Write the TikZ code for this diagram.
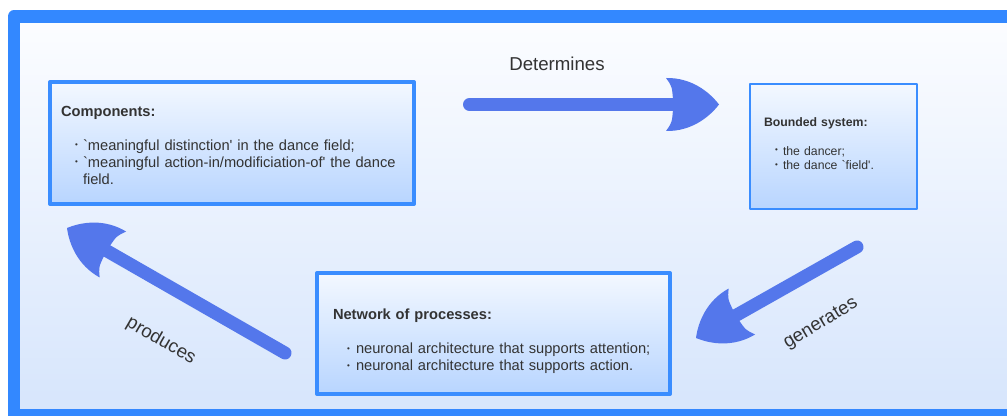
\documentclass[tikz,border=0pt]{standalone}
\usepackage{fontspec}
\setmainfont{Liberation Sans}[Ligatures=TeXOff]
\definecolor{framecol}{RGB}{51,136,255}
\definecolor{boxcol}{RGB}{58,141,255}
\definecolor{arrowcol}{RGB}{84,119,235}
\definecolor{txtcol}{RGB}{51,51,51}
\definecolor{bgtop}{RGB}{252,253,255}
\definecolor{bgbot}{RGB}{214,229,252}
\definecolor{boxtop}{RGB}{243,248,255}
\definecolor{boxbot}{RGB}{184,213,255}
\newcommand\bul[2]{\hspace*{#1}\makebox[#2][l]{\raisebox{.2em}{\fontsize{6}{6}\selectfont\textbullet}}}
\tikzset{
  panel/.style={draw=boxcol,line width=3pt,line join=round,top color=boxtop,bottom color=boxbot,
    align=left,text=txtcol,inner ysep=0pt},
  shaft/.style={draw=arrowcol,line width=9.75pt,line cap=round},
  lbl/.style={text=txtcol,font=\fontsize{14}{16}\selectfont},
  fathead/.pic={
    \fill[arrowcol] (0,0) .. controls (-10,-13) and (-28,-27) .. (-53,-26.5)
      .. controls (-47,-18) .. (-46,-5) -- (-46,5)
      .. controls (-47,18) .. (-53,26.5) .. controls (-28,27) and (-10,13) .. cycle;
  }
}
\begin{document}
\begin{tikzpicture}[x=0.75pt,y=-0.75pt]
\clip (0,0) rectangle (1007,416);
\fill[white] (0,0) rectangle (1007,416);
% outer frame
\draw[framecol,line width=9.4pt,line join=round,top color=bgtop,bottom color=bgbot] (14,16.5) rectangle (1030,415.5);

% the three boxes
\node[panel,minimum width=273pt,minimum height=91.5pt,inner xsep=8.25pt,text width=256.5pt,
  font=\fontsize{11}{12.75}\selectfont] (comp) at (232,143)
  {\rule{0pt}{11pt}\textbf{Components:}\\[12.75pt]
   \bul{10.5pt}{6pt}`meaningful distinction' in the dance field;\\
   \bul{10.5pt}{6pt}`meaningful action-in/modificiation-of' the dance\\
   \hspace*{16.5pt}field.};
\node[panel,line width=1.5pt,minimum width=125.25pt,minimum height=93.75pt,inner xsep=10.5pt,text width=104.25pt,
  font=\fontsize{9.2}{10.9}\selectfont] (bsys) at (833.5,146.5)
  {\textbf{Bounded system:}\\[10.6pt]
   \bul{8.25pt}{6pt}the dancer;\\
   \bul{8.25pt}{6pt}the dance `field'.\rule[-4pt]{0pt}{0pt}};
\node[panel,minimum width=264.75pt,minimum height=90.75pt,inner xsep=12pt,text width=240.75pt,
  font=\fontsize{11}{12.75}\selectfont] (netw) at (493.5,333.5)
  {\rule{0pt}{20pt}\textbf{Network of processes:}\\[13pt]
   \bul{10.5pt}{6.75pt}neuronal architecture that supports attention;\\
   \bul{10.5pt}{6.75pt}neuronal architecture that supports action.};

% big arrows
\coordinate (detS) at (469.5,104.5);
\coordinate (detE) at (719,104.5);
\draw[shaft,shorten >=30pt] (detS) -- (detE);
\pic[rotate=0] at (detE) {fathead};
\coordinate (genS) at (857,247);
\coordinate (genE) at (696,338);
\draw[shaft,shorten >=30pt] (genS) -- (genE);
\pic[rotate=210] at (genE) {fathead};
\coordinate (prodS) at (285,353);
\coordinate (prodE) at (67,228);
\draw[shaft,shorten >=30pt] (prodS) -- (prodE);
\pic[rotate=150] at (prodE) {fathead};

% arrow labels
\node[lbl] (detlbl) at (557,64) {Determines};
\node[lbl,rotate=31] (genlbl) at (821,324) {generates};
\node[lbl,rotate=-30] (prodlbl) at (161,341) {produces};
\end{tikzpicture}
\end{document}
